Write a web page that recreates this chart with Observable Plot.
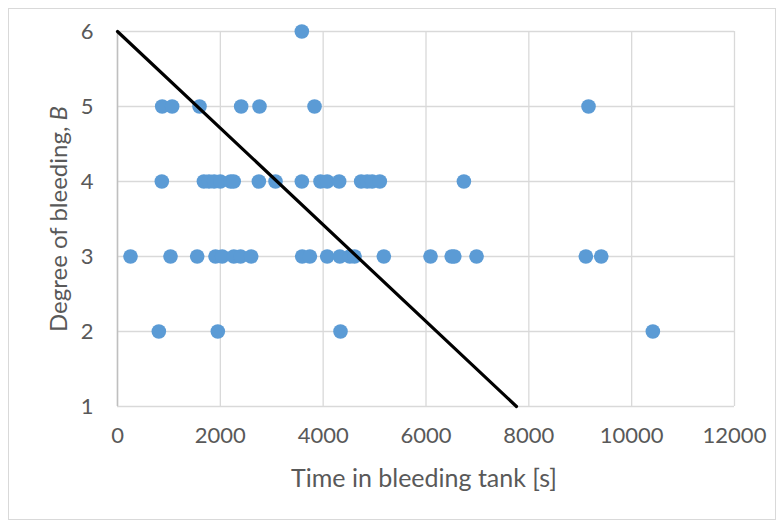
<!DOCTYPE html>
<html>
<head>
<meta charset="utf-8">
<script src="https://cdn.jsdelivr.net/npm/d3@7"></script>
<script src="https://cdn.jsdelivr.net/npm/@observablehq/plot@0.6"></script>
<style>
  html, body { margin: 0; padding: 0; background: #fff; }
  #wrap { position: relative; width: 784px; height: 525px; }
  #border { position: absolute; left: 8px; top: 8px; width: 766px; height: 510px; border: 1px solid #d9d9d9; pointer-events: none; }
</style>
</head>
<body>
<div id="wrap"><div id="border"></div></div>
<script>
// Degree of bleeding B vs time in bleeding tank [s]
const time6 = [3585];
const time5 = [869, 1063, 1595, 2405, 2762, 3832, 9161];
const time4 = [862, 1680, 1780, 1880, 2000, 2200, 2260, 2749, 3073, 3585, 3948, 4078, 4311, 4739, 4856, 4953, 5102, 6737];
const time3 = [253, 1031, 1550, 1906, 2036, 2262, 2393, 2600, 3592, 3741, 4078, 4324, 4518, 4610, 5180, 6088, 6500, 6550, 6983, 9109, 9408];
const time2 = [804, 1951, 4337, 10412];
const fitX = [0, 7760];
const fitY = [6, 1];
const xTicks = [0, 2000, 4000, 6000, 8000, 10000, 12000];
const yTicks = [1, 2, 3, 4, 5, 6];

const points = [
  ...time6.map(t => ({t, b: 6})),
  ...time5.map(t => ({t, b: 5})),
  ...time4.map(t => ({t, b: 4})),
  ...time3.map(t => ({t, b: 3})),
  ...time2.map(t => ({t, b: 2}))
];
const fit = fitX.map((x, i) => ({x, y: fitY[i]}));

const textColor = "#595959";
const font = "Lato, 'Open Sans', sans-serif";
const chart = Plot.plot({
  width: 784,
  height: 525,
  marginLeft: 117,
  marginRight: 50,
  marginTop: 31,
  marginBottom: 119,
  style: { fontFamily: font, fontSize: "22px", color: textColor, background: "transparent", overflow: "visible" },
  x: { domain: [0, 12000], ticks: xTicks },
  y: { domain: [1, 6], ticks: yTicks },
  marks: [
    Plot.gridX(xTicks, { stroke: "#d9d9d9", strokeOpacity: 1, strokeWidth: 1.3 }),
    Plot.gridY(yTicks, { stroke: "#d9d9d9", strokeOpacity: 1, strokeWidth: 1.3 }),
    Plot.ruleX([0], { stroke: "#bfbfbf", strokeWidth: 1.5 }),
    Plot.axisX(xTicks, { tickSize: 0, tickPadding: 21, fill: textColor, label: null, tickFormat: d => String(d), fontSize: 22 }),
    Plot.axisY(yTicks, { tickSize: 0, tickPadding: 24, fill: textColor, label: null, tickFormat: d => String(d), fontSize: 22 }),
    Plot.dot(points, { x: "t", y: "b", r: 7.3, fill: "#5b9bd5", stroke: "none" }),
    Plot.line(fit, { x: "x", y: "y", stroke: "#000", strokeWidth: 3.2 })
  ]
});

const svg = d3.select(chart);
// x-axis title
svg.append("text")
  .attr("x", 424).attr("y", 487)
  .attr("text-anchor", "middle")
  .attr("fill", textColor)
  .attr("font-size", 25)
  .attr("font-family", font)
  .text("Time in bleeding tank [s]");
// y-axis title with italic B
const yt = svg.append("text")
  .attr("transform", "translate(67,219) rotate(-90)")
  .attr("text-anchor", "middle")
  .attr("fill", textColor)
  .attr("font-size", 24)
  .attr("font-family", font);
yt.append("tspan").text("Degree of bleeding, ");
yt.append("tspan").attr("font-style", "italic").text("B");

document.getElementById("wrap").appendChild(chart);
</script>
</body>
</html>
